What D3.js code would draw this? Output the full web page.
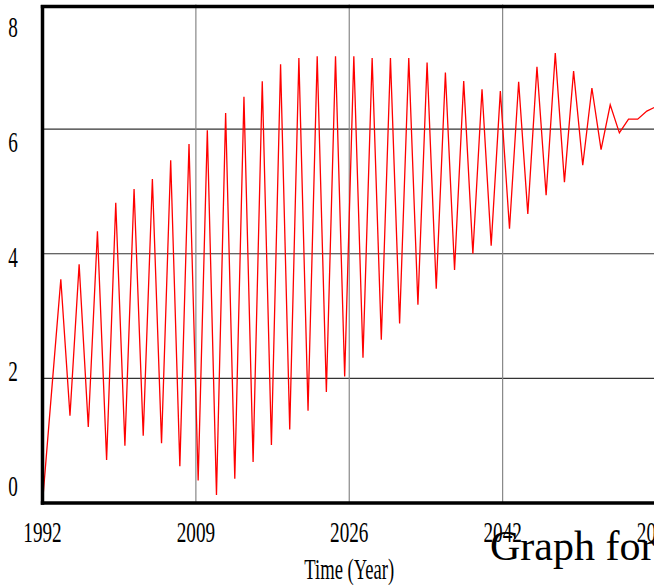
<!DOCTYPE html>
<html lang="en">
<head>
    <meta charset="UTF-8">
    <title>Graph</title>
    <style>
        body {
            margin: 0;
            padding: 0;
            background-color: #fff;
            overflow: hidden;
        }

        svg {
            display: block;
        }

        .tick-label {
            font-family: 'Liberation Serif', 'Times New Roman', serif;
            font-size: 30px;
            fill: #000;
        }

        .grid-h {
            stroke: #333;
            stroke-width: 1.2px;
        }

        .grid-v {
            stroke: #888;
            stroke-width: 1.2px;
        }

        .frame {
            stroke: #000;
            stroke-width: 3.5px;
        }

        .series {
            fill: none;
            stroke: #ff0000;
            stroke-width: 1.3px;
        }
    </style>
</head>
<body>
    <div id="chart"></div>

    <script src="https://d3js.org/d3.v7.min.js"></script>
    <script>
        // yearly values 1992..2059
        const startYear = 1992;
        const endYear = 2059;
        const values = [
            0, 1.8, 3.59, 1.40, 3.83, 1.22, 4.36, 0.69, 4.82, 0.92,
            5.04, 1.08, 5.20, 0.96, 5.50, 0.59, 5.76, 0.36, 5.98, 0.13,
            6.26, 0.39, 6.52, 0.66, 6.77, 0.93, 7.04, 1.18, 7.14, 1.48,
            7.17, 1.78, 7.17, 2.03, 7.17, 2.33, 7.14, 2.62, 7.14, 2.88,
            7.14, 3.18, 7.07, 3.44, 6.91, 3.74, 6.77, 4.00, 6.64, 4.13,
            6.61, 4.40, 6.76, 4.64, 7.00, 4.94, 7.22, 5.15, 6.93, 5.42,
            6.66, 5.67, 6.39, 5.94, 6.16, 6.16, 6.29, 6.36
        ];
        const years = d3.range(startYear, endYear + 1);

        const yTicks = [0, 2, 4, 6, 8];
        const yGrid = [2, 4, 6];
        const xTicks = [1992, 2008.75, 2025.5, 2042.25, 2059];
        const xTickLabels = ["1992", "2009", "2026", "2042", "2059"];
        const xTitle = "Time (Year)";
        const graphTitle = "Graph for";

        const width = 654;
        const height = 587;

        const x = d3.scaleLinear()
            .domain([startYear, endYear])
            .range([42.5, 656]);

        const y = d3.scaleLinear()
            .domain([0, 8])
            .range([503, 4.5]);

        // vensim spreads the value labels evenly, a bit inside the frame
        const yLabel = d3.scaleLinear()
            .domain([0, 8])
            .range([496, 37]);

        const squeeze = 0.64;

        const svg = d3.select("#chart").append("svg")
            .attr("width", width)
            .attr("height", height);

        // grid
        svg.selectAll(".grid-h")
            .data(yGrid)
            .enter().append("line")
            .attr("class", "grid-h")
            .attr("x1", x(startYear))
            .attr("x2", x(endYear))
            .attr("y1", d => y(d))
            .attr("y2", d => y(d));

        svg.selectAll(".grid-v")
            .data(xTicks.slice(1, -1))
            .enter().append("line")
            .attr("class", "grid-v")
            .attr("x1", d => x(d))
            .attr("x2", d => x(d))
            .attr("y1", y(8))
            .attr("y2", y(0));

        // series line
        const line = d3.line()
            .x((d, i) => x(years[i]))
            .y(d => y(d));

        svg.append("path")
            .datum(values)
            .attr("class", "series")
            .attr("d", line);

        // frame
        svg.append("line").attr("class", "frame")
            .attr("x1", x(startYear)).attr("x2", x(startYear))
            .attr("y1", y(8) + 0.5).attr("y2", y(0) + 1.7);
        svg.append("line").attr("class", "frame")
            .attr("x1", x(startYear) - 1.7).attr("x2", x(endYear))
            .attr("y1", y(0)).attr("y2", y(0));
        svg.append("line").attr("class", "frame")
            .attr("x1", x(startYear) - 1.7).attr("x2", x(endYear))
            .attr("y1", y(8) + 2).attr("y2", y(8) + 2);

        // y labels
        svg.selectAll(".ylab")
            .data(yTicks)
            .enter().append("text")
            .attr("class", "tick-label")
            .attr("text-anchor", "middle")
            .attr("transform", d => `translate(13,${yLabel(d)}) scale(${squeeze},1)`)
            .text(d => d);

        // x labels
        svg.selectAll(".xlab")
            .data(xTicks)
            .enter().append("text")
            .attr("class", "tick-label")
            .attr("text-anchor", "middle")
            .attr("transform", d => `translate(${x(d)},542) scale(${squeeze},1)`)
            .text((d, i) => xTickLabels[i]);

        svg.append("text")
            .attr("class", "tick-label")
            .attr("text-anchor", "middle")
            .attr("transform", `translate(${(x(startYear) + x(endYear)) / 2},579) scale(0.62,1)`)
            .text(xTitle);

        svg.append("text")
            .attr("x", 490)
            .attr("y", 560)
            .style("font-family", "'Liberation Serif', 'Times New Roman', serif")
            .style("font-size", "42px")
            .style("fill", "#000")
            .text(graphTitle);
    </script>
</body>
</html>
